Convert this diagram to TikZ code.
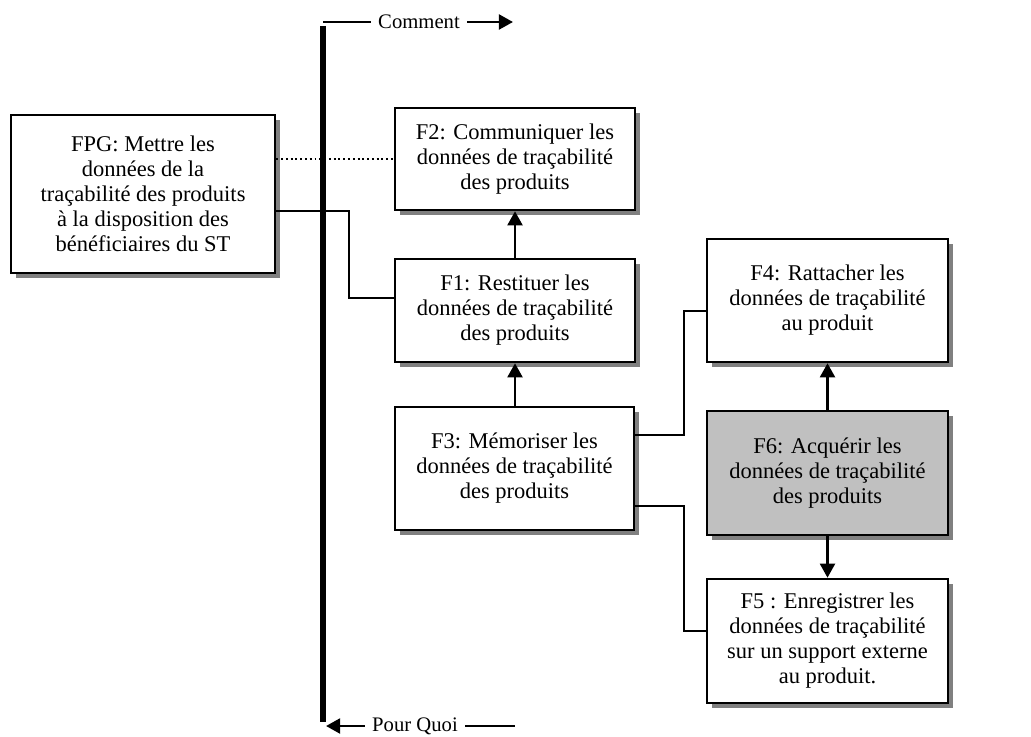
\documentclass[tikz,border=0pt]{standalone}
\usepackage{fontspec}
\setmainfont{Liberation Serif}
\usepackage{tikz}
\usetikzlibrary{shadows, calc, arrows.meta}
\definecolor{shadowgray}{RGB}{128, 128, 128}
\definecolor{activegray}{RGB}{192, 192, 192}

\begin{document}
\begin{tikzpicture}[x=0.025cm, y=-0.025cm, >={Triangle[width=10.5pt, length=10pt]},
    func/.style={draw, line width=1.8pt, fill=white, align=center,
        font=\fontsize{16}{17.8}\selectfont,
        drop shadow={shadow xshift=3.8pt, shadow yshift=-3.8pt, fill=shadowgray, opacity=1}},
    link/.style={line width=1.4pt},
    arr/.style={->, line width=2pt},
    axislabel/.style={font=\fontsize{14.7}{16}\selectfont, inner sep=5pt}]
    \useasboundingbox (0,0) rectangle (1031,736);

    % axe central
    \coordinate (bartop) at (323,22);
    \coordinate (barbot) at (323,722);
    \draw[line width=4.2pt] ($(bartop)+(0,4)$) -- (barbot);
    \node[axislabel] (comment) at (419,22) {Comment};
    \draw[link] (bartop) -- (comment.west);
    \coordinate (commentend) at (513,22);
    \draw[arr] (comment.east) -- (commentend);
    \node[axislabel] (pourquoi) at (415,726) {Pour Quoi};
    \coordinate (pqleft) at (326,726);
    \coordinate (pqright) at (515,726);
    \draw[arr] (pourquoi.west) -- (pqleft);
    \draw[link] (pourquoi.east) -- (pqright);

    % fonctions
    \node[func, minimum width=264*0.025cm, minimum height=158*0.025cm] (fpg) at (143,194)
        {FPG: Mettre les\\données de la\\traçabilité des produits\\à la disposition des\\bénéficiaires du ST};
    \node[func, minimum width=240*0.025cm, minimum height=102*0.025cm] (f2) at (515,159)
        {F2: Communiquer les\\données de traçabilité\\des produits};
    \node[func, minimum width=240*0.025cm, minimum height=103*0.025cm] (f1) at (515,310.5)
        {F1: Restituer les\\données de traçabilité\\des produits};
    \node[func, minimum width=239*0.025cm, minimum height=123*0.025cm] (f3) at (514.5,468.5)
        {F3: Mémoriser les\\données de traçabilité\\des produits};
    \node[func, minimum width=241*0.025cm, minimum height=123*0.025cm] (f4) at (827.5,300.5)
        {F4: Rattacher les\\données de traçabilité\\au produit};
    \node[func, fill=activegray, minimum width=241*0.025cm, minimum height=124*0.025cm] (f6) at (827.5,473)
        {F6: Acquérir les\\données de traçabilité\\des produits};
    \node[func, minimum width=241*0.025cm, minimum height=124*0.025cm] (f5) at (827.5,641)
        {F5 : Enregistrer les\\données de traçabilité\\sur un support externe\\au produit.};

    % liaisons
    \draw[link, dotted] (f2.west -| fpg.east) -- (f2.west);
    \draw[link] ([yshift=-12pt]fpg.east) -- ++(73,0) |- ([yshift=9pt]f1.west);
    \draw[arr] (f1.north) -- (f2.south);
    \draw[arr] (f3.north -| f1.south) -- (f1.south);
    \draw[link] ([yshift=23.6pt]f3.east) -- ++(48.5,0) |- ([yshift=-7.4pt]f4.west);
    \draw[link] ([yshift=-27pt]f3.east) -- ++(48.5,0) |- ([yshift=7pt]f5.west);
    \draw[arr] (f6.north) -- (f4.south);
    \draw[arr] (f6.south) -- (f5.north);
\end{tikzpicture}
\end{document}
